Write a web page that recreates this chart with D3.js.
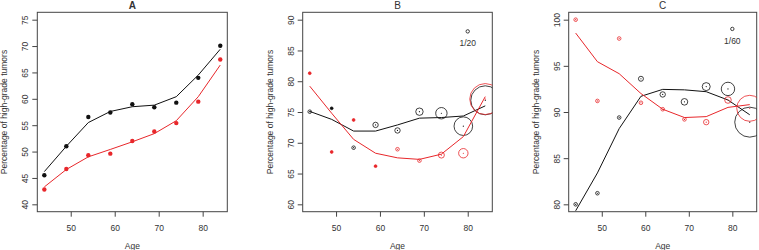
<!DOCTYPE html>
<html>
<head>
<meta charset="utf-8">
<script src="https://cdn.jsdelivr.net/npm/d3@7"></script>
<style>
  body { margin: 0; background: #fff; }
  svg text { font-family: "Liberation Sans", Arial, sans-serif; fill: #333; }
</style>
</head>
<body>
<div id="chart"></div>
<script>
  // --- data ---
  const ages = [44, 49, 54, 59, 64, 69, 74, 79, 84];
  const xTicks = [50, 60, 70, 80];

  // A
  const aTicks = [40, 45, 50, 55, 60, 65, 70, 75];
  const aBlackPts = [45.5, 51.0, 56.55, 57.4, 58.96, 58.4, 59.27, 63.97, 70.05];
  const aRedPts   = [42.8, 46.7, 49.3, 49.6, 52.0, 53.8, 55.4, 59.46, 67.45];
  const aBlackFit = [46.2, 51.0, 55.5, 57.6, 58.5, 58.8, 60.4, 64.5, 69.4];
  const aRedFit   = [43.3, 46.6, 49.0, 50.4, 51.85, 53.4, 55.85, 60.4, 66.4];

  // B
  const bTicks = [60, 65, 70, 75, 80, 85, 90];
  const bBlackPts = [75.05, 75.6, 69.2, 72.9, 72.0, 75.05, 74.8, 72.7, 76.9];
  const bRedPts   = [81.3, 68.5, 73.7, 66.2, 68.95, 67.1, 68.0, 68.3, 77.1];
  const bBlackW   = [1.8, 1.4, 1.8, 2.7, 2.7, 3.7, 5.7, 9.3, 14.5];
  const bRedW     = [1.4, 1.4, 1.4, 1.4, 1.8, 1.8, 3.0, 4.7, 15.5];
  const bBlackFit = [75.1, 73.8, 71.9, 71.9, 72.9, 74.0, 74.1, 74.35, 76.0];
  const bRedFit   = [79.2, 74.8, 70.55, 68.3, 67.55, 67.3, 68.15, 71.0, 77.5];
  const bKey = { age: 80, value: 88.1, w: 1.7, label: "1/20" };

  // C
  const cTicks = [80, 85, 90, 95, 100];
  const cBlackPts = [80.0, 81.2, 89.4, 93.6, 91.9, 91.1, 92.75, 92.5, 88.9];
  const cRedPts   = [100.0, 91.2, 97.96, 91.0, 90.3, 89.2, 88.9, 91.3, 90.4];
  const cBlackW   = [1.8, 1.8, 1.8, 2.5, 2.7, 3.3, 4.0, 6.7, 15];
  const cRedW     = [1.8, 1.8, 1.8, 1.8, 1.8, 1.8, 2.7, 3.3, 13];
  const cBlackFit = [79.3, 83.4, 88.2, 91.7, 92.45, 92.4, 92.2, 91.3, 89.7];
  const cRedFit   = [98.55, 95.45, 94.15, 92.0, 90.3, 89.4, 89.5, 90.5, 90.8];
  const cKey = { age: 80, value: 99.0, w: 1.7, label: "1/60" };

  const BLACK = "#111";
  const RED = "#e8272b";
  const AXIS = "#444";

  const W = 759, H = 250;
  const plotTop = 12.3, plotBottom = 211.7;

  const svg = d3.select("#chart").append("svg")
    .attr("width", W).attr("height", H);

  const panels = [
    { id: "A", bold: true, left: 37.3, right: 227.3, ylim: [40, 75], ticks: aTicks,
      series: [
        { color: BLACK, pts: aBlackPts, fit: aBlackFit },
        { color: RED, pts: aRedPts, fit: aRedFit }
      ] },
    { id: "B", bold: false, left: 302.7, right: 492.3, ylim: [60, 90], ticks: bTicks, key: bKey,
      series: [
        { color: BLACK, pts: bBlackPts, w: bBlackW, fit: bBlackFit },
        { color: RED, pts: bRedPts, w: bRedW, fit: bRedFit }
      ] },
    { id: "C", bold: false, left: 568.7, right: 756.7, ylim: [80, 100], ticks: cTicks, key: cKey,
      series: [
        { color: BLACK, pts: cBlackPts, w: cBlackW, fit: cBlackFit },
        { color: RED, pts: cRedPts, w: cRedW, fit: cRedFit }
      ] }
  ];

  // R-style 4% padding
  const pad = ([a, b]) => [a - (b - a) * 0.04, b + (b - a) * 0.04];
  const rScale = d3.scaleLinear().domain([0, 1]).range([0, 1]);

  panels.forEach(p => {
    const x = d3.scaleLinear().domain(pad([44, 84])).range([p.left, p.right]);
    const y = d3.scaleLinear().domain(pad(p.ylim)).range([plotBottom, plotTop]);
    const g = svg.append("g");

    const clipId = "clip" + p.id;
    svg.append("clipPath").attr("id", clipId)
      .append("rect")
      .attr("x", p.left).attr("y", plotTop)
      .attr("width", p.right - p.left).attr("height", plotBottom - plotTop);

    // y axis (labels parallel to the axis)
    const ya = g.append("g")
      .attr("transform", `translate(${p.left},0)`)
      .call(d3.axisLeft(y).tickValues(p.ticks).tickSize(5).tickFormat(d3.format("d")));
    ya.select(".domain").remove();
    ya.selectAll("line").attr("stroke", AXIS);
    ya.selectAll("text")
      .attr("x", 0).attr("dy", null)
      .attr("transform", "translate(-9,0) rotate(-90)")
      .attr("text-anchor", "middle")
      .attr("font-size", 8.5)
      .attr("fill", "#333");

    // x axis
    const xa = g.append("g")
      .attr("transform", `translate(0,${plotBottom})`)
      .call(d3.axisBottom(x).tickValues(xTicks).tickSize(5).tickPadding(8));
    xa.select(".domain").remove();
    xa.selectAll("line").attr("stroke", AXIS);
    xa.selectAll("text").attr("font-size", 8.5).attr("fill", "#333");

    // box
    g.append("rect")
      .attr("x", p.left).attr("y", plotTop)
      .attr("width", p.right - p.left).attr("height", plotBottom - plotTop)
      .attr("fill", "none").attr("stroke", AXIS).attr("stroke-width", 1);

    // titles
    g.append("text")
      .attr("x", (p.left + p.right) / 2).attr("y", 9)
      .attr("text-anchor", "middle")
      .attr("font-size", 10)
      .attr("font-weight", p.bold ? "bold" : "normal")
      .attr("fill", "#222")
      .text(p.id);

    g.append("text")
      .attr("transform", `translate(${p.left - 30},${(plotTop + plotBottom) / 2}) rotate(-90)`)
      .attr("text-anchor", "middle")
      .attr("font-size", 8.5)
      .text("Percentage of high-grade tumors");

    g.append("text")
      .attr("x", (p.left + p.right) / 2).attr("y", 249)
      .attr("text-anchor", "middle")
      .attr("font-size", 8.5)
      .text("Age");

    const plot = g.append("g").attr("clip-path", `url(#${clipId})`);

    const line = d3.line().x((d, i) => x(ages[i])).y(d => y(d));

    p.series.forEach(s => {
      plot.append("path")
        .attr("d", line(s.fit))
        .attr("fill", "none")
        .attr("stroke", s.color)
        .attr("stroke-width", 1);

      if (!s.w) {
        plot.selectAll(null)
          .data(s.pts)
          .join("circle")
          .attr("cx", (d, i) => x(ages[i]))
          .attr("cy", d => y(d))
          .attr("r", 2.2)
          .attr("fill", s.color);
      } else {
        const marks = s.pts.map((v, i) => ({ age: ages[i], v, r: rScale(s.w[i]) }));
        plot.selectAll(null)
          .data(marks)
          .join("circle")
          .attr("cx", d => x(d.age))
          .attr("cy", d => y(d.v))
          .attr("r", d => d.r)
          .attr("fill", d => d.r < 1.6 ? s.color : "none")
          .attr("stroke", s.color)
          .attr("stroke-width", 0.8);
        plot.selectAll(null)
          .data(marks)
          .join("circle")
          .attr("cx", d => x(d.age))
          .attr("cy", d => y(d.v))
          .attr("r", 0.6)
          .attr("fill", s.color);
      }
    });

    if (p.key) {
      g.append("circle")
        .attr("cx", x(p.key.age)).attr("cy", y(p.key.value))
        .attr("r", rScale(p.key.w))
        .attr("fill", "none").attr("stroke", BLACK).attr("stroke-width", 0.8);
      g.append("text")
        .attr("x", x(p.key.age)).attr("y", y(p.key.value) + 15)
        .attr("text-anchor", "middle")
        .attr("font-size", 8.5)
        .attr("fill", "#222")
        .text(p.key.label);
    }
  });
</script>
</body>
</html>
